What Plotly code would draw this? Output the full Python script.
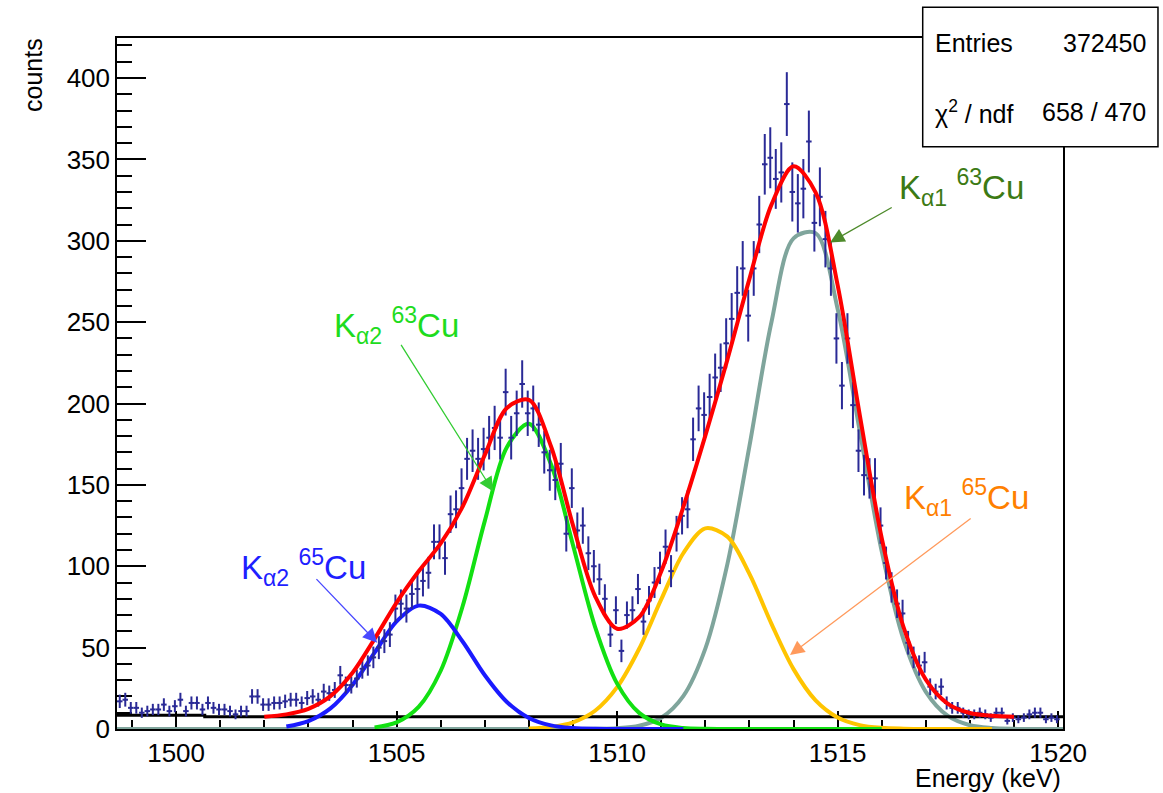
import numpy as np
import plotly.graph_objects as go

# ---------------- histogram: Cu K-alpha region ----------------
BIN_LOW_EDGE = 1498.66      # keV, first bin lower edge
BIN_WIDTH = 0.125           # keV
COUNTS = [
    17, 18, 13, 13, 10, 11, 12, 12, 15, 11, 14, 18, 11, 16, 16, 12,
    16, 13, 12, 12, 11, 9, 11, 11, 20, 20, 15, 15, 16, 16, 17, 18,
    18, 16, 19, 20, 18, 23, 22, 24, 33, 27, 27, 31, 37, 39, 44, 50,
    54, 58, 74, 77, 74, 83, 86, 91, 96, 115, 115, 105, 132, 135, 148, 166,
    171, 166, 172, 179, 185, 179, 207, 179, 194, 212, 194, 197, 187, 170, 159, 153,
    163, 120, 148, 122, 125, 108, 100, 92, 80, 58, 73, 48, 70, 73, 86, 66,
    79, 90, 99, 112, 97, 120, 131, 135, 178, 197, 193, 204, 216, 222, 237, 252,
    268, 283, 254, 283, 310, 347, 351, 338, 342, 384, 330, 323, 332, 361, 311, 327,
    301, 283, 240, 211, 240, 199, 171, 156, 154, 154, 125, 102, 87, 77, 71, 53,
    44, 39, 41, 26, 23, 26, 16, 13, 13, 10, 9, 9, 10, 9, 7, 10,
    10, 5, 7, 6, 7, 9, 10, 10, 6, 7, 6,
]

# ---------------- fit components (sampled) ----------------
CURVE_E = [1498.5 + 0.5 * k for k in range(45)]   # 1498.5 ... 1520.5 keV
N = None
K_A2_65 = [N] * 8 + [1.5, 4.9, 12.7, 27.1, 46.9, 66.1, 75.8, 70.7, 53.6, 33.0,
                     16.6, 6.8, 2.2, 0.6, 0.1, 0, 0, 0, 0] + [N] * 18
K_A2_63 = [N] * 12 + [1.0, 4.1, 13.6, 35.8, 75.7, 127.9, 173.2, 187.6, 162.7, 112.9,
                      62.8, 27.9, 9.9, 2.8, 0.6, 0.1, 0, 0, 0, 0, 0, 0, 0, 0] + [N] * 9
K_A1_65 = [N] * 19 + [0.3, 1.3, 4.1, 11.2, 25.7, 49.3, 79.6, 108.0, 123.3, 118.2,
                      95.3, 64.6, 36.8, 17.6, 7.1, 2.4, 0.7, 0.2, 0, 0, 0, 0] + [N] * 4
K_A1_63 = [0] * 22 + [0.1, 0.5, 2.0, 6.9, 20.2, 49.4, 101.3, 173.8, 250.1, 301.5,
                      304.7, 258.1, 183.3, 109.1, 54.4, 22.8, 8.0, 2.3, 0.6, 0.1, 0, 0, 0]
BKG_LEVEL = 7.5
BKG_E = [1498.5, 1500.65, 1500.65, 1520.5]
BKG = [8.5, 8.5, 7.5, 7.5]
TOTAL_RANGE = (1502.0, 1519.0)

FONT = "Liberation Sans, Arial, sans-serif"
TICK_FONT = dict(family=FONT, size=26, color="black")

# ---------------- derived series ----------------
counts = np.array(COUNTS, dtype=float)
centers = BIN_LOW_EDGE + BIN_WIDTH * (np.arange(len(counts)) + 0.5)
errors = np.sqrt(counts)

curve_e = np.array(CURVE_E)


def as_arr(vals):
    return np.array([0.0 if v is None else v for v in vals])


total = BKG_LEVEL + as_arr(K_A2_65) + as_arr(K_A2_63) + as_arr(K_A1_65) + as_arr(K_A1_63)
mask = (curve_e >= TOTAL_RANGE[0]) & (curve_e <= TOTAL_RANGE[1])
total_e = curve_e[mask]
total_y = total[mask]

fig = go.Figure()

line_common = dict(shape="spline", smoothing=0.9)

fig.add_trace(go.Scatter(x=CURVE_E, y=K_A1_63, mode="lines",
                         line=dict(color="#7fa59c", width=4, **line_common)))
fig.add_trace(go.Scatter(x=BKG_E, y=BKG, mode="lines",
                         line=dict(color="black", width=3)))
fig.add_trace(go.Scatter(x=CURVE_E, y=K_A1_65, mode="lines",
                         line=dict(color="#ffc400", width=4, **line_common)))
fig.add_trace(go.Scatter(x=CURVE_E, y=K_A2_63, mode="lines",
                         line=dict(color="#12e012", width=4, **line_common)))
fig.add_trace(go.Scatter(x=CURVE_E, y=K_A2_65, mode="lines",
                         line=dict(color="#1a1aff", width=4, **line_common)))

# data with Poisson errors
fig.add_trace(go.Scatter(
    x=centers, y=counts, mode="markers",
    marker=dict(size=2, color="#2a2a96"),
    error_y=dict(type="data", array=errors, visible=True, thickness=2, width=0, color="#2a2a96"),
    error_x=dict(type="constant", value=BIN_WIDTH / 2, visible=True, thickness=2, width=0, color="#2a2a96"),
))

fig.add_trace(go.Scatter(x=total_e, y=total_y, mode="lines",
                         line=dict(color="#ff0000", width=4, **line_common)))

# ---------------- peak labels ----------------
labels = [
    # text, colour, text pos (E, counts), arrow tail, arrow head, arrow colour
    ("K<sub>α2</sub> <sup>63</sup>Cu", "#1edc1e", (1505.0, 248), (1505.08, 237), (1507.19, 146), "#33cc33"),
    ("K<sub>α2</sub> <sup>65</sup>Cu", "#1f1fff", (1502.9, 99), (1503.15, 93), (1504.56, 53), "#4848ff"),
    ("K<sub>α1</sub> <sup>63</sup>Cu", "#3c7a14", (1517.8, 333), (1516.26, 321), (1514.83, 299), "#4d8a2a"),
    ("K<sub>α1</sub> <sup>65</sup>Cu", "#ff8000", (1517.93, 142), (1518.05, 130), (1513.92, 45.5), "#ff9a5c"),
]
annotations = []
for text, col, (tx, ty), (ax, ay), (hx, hy), acol in labels:
    annotations.append(dict(x=tx, y=ty, xref="x", yref="y", text=text, showarrow=False,
                            font=dict(family=FONT, size=33, color=col),
                            xanchor="center", yanchor="middle"))
    annotations.append(dict(x=hx, y=hy, xref="x", yref="y", ax=ax, ay=ay,
                            axref="x", ayref="y", text="", showarrow=True,
                            arrowhead=2, arrowsize=2.2, arrowwidth=1.3, arrowcolor=acol))

# axis titles
annotations.append(dict(x=-0.0888, y=0.9465, xref="paper", yref="paper", text="counts",
                        textangle=-90, showarrow=False,
                        font=dict(family=FONT, size=25, color="black"),
                        xanchor="center", yanchor="middle"))
annotations.append(dict(x=1.0, y=-0.0705, xref="paper", yref="paper", text="Energy (keV)",
                        showarrow=False, font=dict(family=FONT, size=25, color="black"),
                        xanchor="right", yanchor="middle"))

# statistics box
stat_font = dict(family=FONT, size=25, color="black")
annotations += [
    dict(x=0.8626, y=0.9928, xref="paper", yref="paper", text="Entries", showarrow=False,
         font=stat_font, xanchor="left", yanchor="middle"),
    dict(x=1.0899, y=0.9928, xref="paper", yref="paper", text="372450", showarrow=False,
         font=stat_font, xanchor="right", yanchor="middle"),
    dict(x=0.8626, y=0.8929, xref="paper", yref="paper", text="χ<sup>2</sup> / ndf", showarrow=False,
         font=stat_font, xanchor="left", yanchor="middle"),
    dict(x=1.0899, y=0.8929, xref="paper", yref="paper", text="658 / 470", showarrow=False,
         font=stat_font, xanchor="right", yanchor="middle"),
]

shapes = [dict(type="rect", xref="paper", yref="paper", x0=0.8517, x1=1.1004, y0=0.8427, y1=1.0444,
               line=dict(color="black", width=1.5), fillcolor="white", layer="above")]

fig.update_layout(
    width=1163, height=793,
    margin=dict(l=117, r=100, t=38, b=64),
    paper_bgcolor="white", plot_bgcolor="white",
    showlegend=False,
    annotations=annotations,
    shapes=shapes,
    xaxis=dict(range=[1498.66, 1520.11], tickmode="linear", tick0=1500, dtick=5,
               ticks="inside", ticklen=18, tickwidth=1.5, tickcolor="black",
               minor=dict(tickmode="linear", tick0=1500, dtick=1, ticks="inside",
                          ticklen=9, tickwidth=1.5, tickcolor="black"),
               showline=True, mirror=True, linecolor="black", linewidth=1.5,
               showgrid=False, zeroline=False, tickfont=TICK_FONT, layer="below traces",
               ticklabelstandoff=0),
    yaxis=dict(range=[0, 424.6], tickmode="linear", tick0=0, dtick=50,
               ticks="inside", ticklen=29, tickwidth=1.5, tickcolor="black",
               minor=dict(tickmode="linear", tick0=0, dtick=10, ticks="inside",
                          ticklen=15, tickwidth=1.5, tickcolor="black"),
               showline=True, mirror=True, linecolor="black", linewidth=1.5,
               showgrid=False, zeroline=False, tickfont=TICK_FONT, layer="below traces"),
)

fig.write_html("out.html")
